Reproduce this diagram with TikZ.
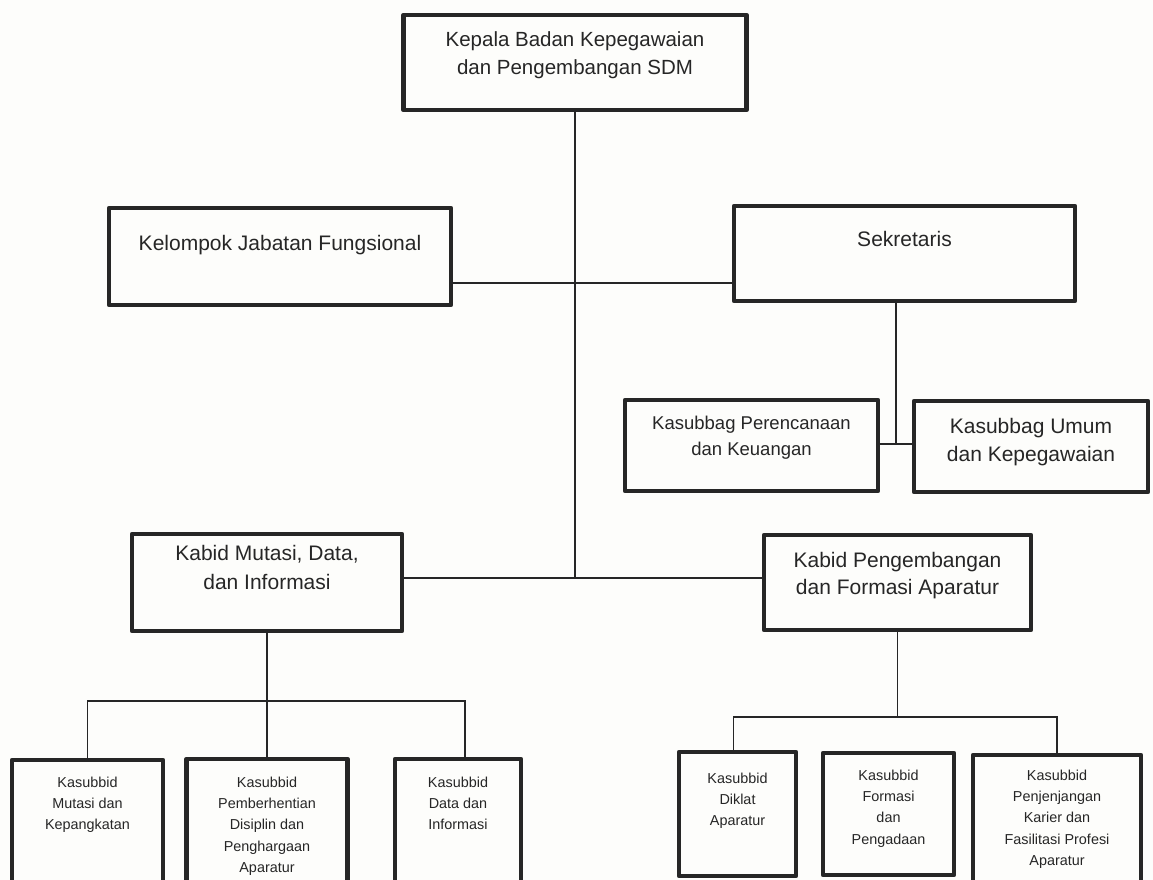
\documentclass[tikz,border=0pt]{standalone}
\usepackage{fontspec}
\setmainfont{Liberation Sans}
\definecolor{ink}{HTML}{262626}
\definecolor{paper}{HTML}{FDFDFB}
\begin{document}
\begin{tikzpicture}[x=1pt,y=-1pt,
    unit/.style={draw=ink,text=ink,line width=4.5pt,anchor=north,inner sep=0pt,
      outer sep=0pt,align=center,line join=round},
    big/.style={font=\fontsize{21}{29}\selectfont},
    mid/.style={font=\fontsize{18.5}{26}\selectfont},
    small/.style={font=\fontsize{14.4}{21.4}\selectfont},
    link/.style={draw=ink,line width=1.8pt}]
  \clip (0,0) rectangle (1153,880);
  \fill[paper] (0,0) rectangle (1153,880);
  % top levels
  \node[unit,font=\fontsize{20.5}{28}\selectfont,minimum width=343,text height=60,text depth=35]
       (kepala) at (575,15) {Kepala Badan Kepegawaian\\dan Pengembangan SDM};
  \node[unit,big,minimum width=342,text height=42,text depth=55]
       (kelompok) at (280,208) {Kelompok Jabatan Fungsional};
  \node[unit,big,minimum width=341,text height=40,text depth=55]
       (sekretaris) at (904.5,206) {Sekretaris};
  \node[unit,mid,minimum width=253,text height=55,text depth=36]
       (perencanaan) at (751.5,400) {Kasubbag Perencanaan\\dan Keuangan};
  \node[unit,font=\fontsize{21}{28}\selectfont,minimum width=234,text height=60,text depth=31]
       (umum) at (1031,401) {Kasubbag Umum\\dan Kepegawaian};
  \node[unit,big,minimum width=270,text height=55,text depth=42]
       (kabidA) at (267,534) {Kabid Mutasi, Data,\\dan Informasi};
  \node[unit,font=\fontsize{21}{27}\selectfont,minimum width=267,text height=59,text depth=36]
       (kabidB) at (897.5,535) {Kabid Pengembangan\\dan Formasi Aparatur};
  % sub units
  \node[unit,small,minimum width=151,text height=69.8,text depth=70.2]
       (mutasi) at (87.5,760) {Kasubbid\\Mutasi dan\\Kepangkatan};
  \node[unit,small,minimum width=161,text height=113.6,text depth=27.4]
       (disiplin) at (267,759) {Kasubbid\\Pemberhentian\\Disiplin dan\\Penghargaan\\Aparatur};
  \node[unit,small,minimum width=126,text height=70.8,text depth=70.2]
       (data) at (458,759) {Kasubbid\\Data dan\\Informasi};
  \node[unit,small,minimum width=117,text height=73.8,text depth=50.2]
       (diklat) at (737.5,752) {Kasubbid\\Diklat\\Aparatur};
  \node[unit,small,minimum width=131,text height=91.2,text depth=30.8]
       (formasi) at (888.5,753) {Kasubbid\\Formasi\\dan\\Pengadaan};
  \node[unit,small,minimum width=168,text height=110.6,text depth=34.4]
       (karier) at (1057,755) {Kasubbid\\Penjenjangan\\Karier dan\\Fasilitasi Profesi\\Aparatur};
  % junctions
  \coordinate (hubA) at (575,283);
  \coordinate (hubB) at (575,578);
  \coordinate (sekHub) at (896,444);
  \coordinate (busA) at (267,701);
  \coordinate (busB) at (897.5,717);
  % lines
  \draw[link] (kepala.south) -- (hubB);
  \draw[link] (kelompok.east |- hubA) -- (sekretaris.west |- hubA);
  \draw[link] (kabidA.east |- hubB) -- (kabidB.west |- hubB);
  \draw[link] (sekretaris.south -| sekHub) -- (sekHub);
  \draw[link] (perencanaan.east |- sekHub) -- (umum.west |- sekHub);
  \draw[link] (kabidA.south) -- (disiplin.north);
  \draw[link] (mutasi.north) |- (busA) -| ([xshift=7pt]data.north);
  \draw[link] (kabidB.south) -- (busB);
  \draw[link] ([xshift=-4pt]diklat.north) |- (busB) -| (karier.north);
\end{tikzpicture}
\end{document}
